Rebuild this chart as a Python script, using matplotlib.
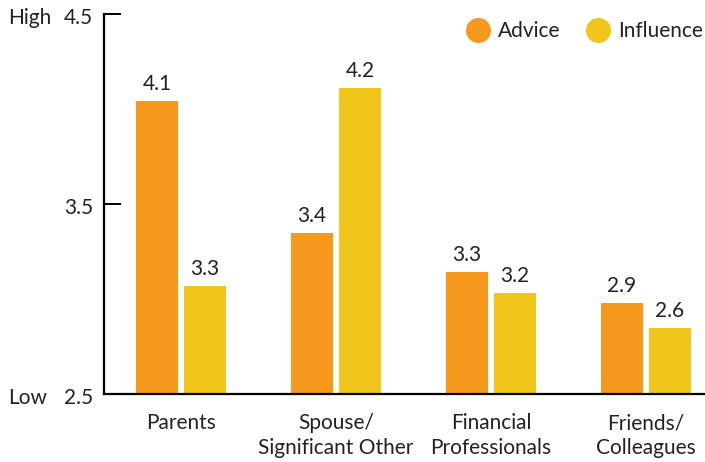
import matplotlib.pyplot as plt
from matplotlib.lines import Line2D
from matplotlib.transforms import blended_transform_factory, offset_copy
import numpy as np

plt.rcParams['font.family'] = ['Lato', 'DejaVu Sans']

categories = ['Parents', 'Spouse/\nSignificant Other', 'Financial\nProfessionals', 'Friends/\nColleagues']
advice = [4.04, 3.35, 3.14, 2.98]
influence = [3.07, 4.11, 3.03, 2.85]
advice_labels = ['4.1', '3.4', '3.3', '2.9']
influence_labels = ['3.3', '4.2', '3.2', '2.6']
yticks = [2.5, 3.5, 4.5]

ORANGE = '#F7991F'
YELLOW = '#F1C51A'
TEXT = '#222222'
FS = 15

fig = plt.figure(figsize=(7.05, 4.62), dpi=100)
ax = fig.add_axes([104 / 705, (462 - 394) / 462, 601 / 705, 380 / 462])

x = np.arange(len(categories))
w = 0.271
off = 0.155
b1 = ax.bar(x - off, advice, w, color=ORANGE, zorder=2)
b2 = ax.bar(x + off, influence, w, color=YELLOW, zorder=2)

for bars, labels in ((b1, advice_labels), (b2, influence_labels)):
    for bar, lab in zip(bars, labels):
        ax.annotate(lab, (bar.get_x() + bar.get_width() / 2, bar.get_height()),
                    xytext=(0, 5), textcoords='offset points',
                    ha='center', va='bottom', fontsize=FS, color=TEXT)

ax.set_xlim(-0.497, 3.381)
ax.set_ylim(2.5, 4.5)
ax.set_yticks(yticks)
ax.set_yticklabels([])
ax.tick_params(axis='y', direction='in', length=12, width=1.4)
ax.set_xticks(x)
ax.set_xticklabels(categories, fontsize=FS, color=TEXT, linespacing=1.3)
ax.tick_params(axis='x', length=0, pad=14)

for side in ('top', 'right'):
    ax.spines[side].set_visible(False)
ax.spines['left'].set_linewidth(1.6)
ax.spines['bottom'].set_linewidth(1.6)

# tick values and High/Low words, nudged down a little like the original
trans = offset_copy(blended_transform_factory(fig.transFigure, ax.transData),
                    fig=fig, x=0, y=-4, units='dots')
for t in yticks:
    ax.text(93 / 705, t, f'{t:.1f}', transform=trans, fontsize=FS, color=TEXT,
            ha='right', va='center')
ax.text(8 / 705, 4.5, 'High', transform=trans, fontsize=FS, color=TEXT,
        ha='left', va='center')
ax.text(8 / 705, 2.5, 'Low', transform=trans, fontsize=FS, color=TEXT,
        ha='left', va='center')

handles = [Line2D([], [], marker='o', linestyle='none', markersize=17,
                  markerfacecolor=ORANGE, markeredgecolor=ORANGE),
           Line2D([], [], marker='o', linestyle='none', markersize=17,
                  markerfacecolor=YELLOW, markeredgecolor=YELLOW)]
fig.legend(handles, ['Advice', 'Influence'], loc='center right',
           bbox_to_anchor=(1.0, 1 - 31 / 462), ncol=2, frameon=False, fontsize=FS,
           handletextpad=0.45, columnspacing=1.3, handlelength=1.0,
           borderaxespad=0, borderpad=0.1, labelcolor=TEXT)

fig.savefig('out.png', dpi=100)
